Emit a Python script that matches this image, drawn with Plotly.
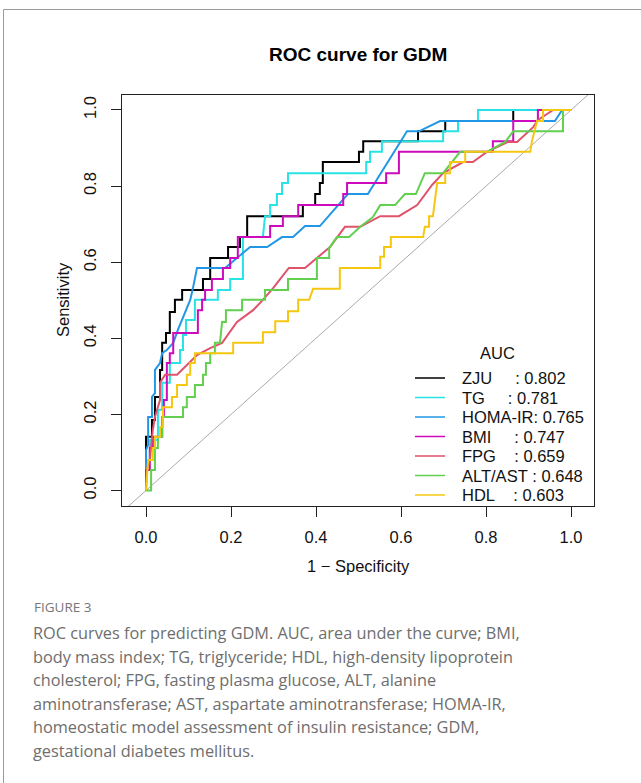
import plotly.graph_objects as go

# ROC curve vertices (x = 1 - specificity, y = sensitivity)
zju_x = [0, 0, 0.014, 0.014, 0.021, 0.021, 0.033, 0.033, 0.038, 0.038, 0.047, 0.047, 0.056, 0.056,
         0.068, 0.068, 0.085, 0.085, 0.134, 0.134, 0.151, 0.151, 0.193, 0.193, 0.221, 0.221, 0.238,
         0.238, 0.369, 0.369, 0.398, 0.398, 0.409, 0.409, 0.416, 0.416, 0.501, 0.501, 0.511, 0.511,
         0.64, 0.64, 0.704, 0.704, 0.864, 0.864, 1]
zju_y = [0, 0.141, 0.141, 0.185, 0.185, 0.246, 0.246, 0.317, 0.317, 0.388, 0.388, 0.414, 0.414, 0.469,
         0.469, 0.501, 0.501, 0.527, 0.527, 0.556, 0.556, 0.611, 0.611, 0.64, 0.64, 0.666, 0.666,
         0.721, 0.721, 0.75, 0.75, 0.779, 0.779, 0.808, 0.808, 0.863, 0.863, 0.89, 0.89, 0.918,
         0.918, 0.944, 0.944, 0.971, 0.971, 1, 1]

tg_x = [0, 0, 0.009, 0.009, 0.028, 0.028, 0.038, 0.038, 0.056, 0.056, 0.08, 0.08, 0.087, 0.087,
        0.094, 0.094, 0.115, 0.115, 0.169, 0.169, 0.198, 0.198, 0.228, 0.228, 0.275, 0.28, 0.292,
        0.292, 0.308, 0.308, 0.32, 0.32, 0.334, 0.334, 0.518, 0.518, 0.527, 0.527, 0.555, 0.555,
        0.699, 0.699, 0.734, 0.734, 0.781, 0.781, 1]
tg_y = [0, 0.08, 0.08, 0.133, 0.133, 0.212, 0.212, 0.283, 0.283, 0.335, 0.335, 0.369, 0.369, 0.409,
        0.409, 0.448, 0.448, 0.501, 0.501, 0.527, 0.527, 0.556, 0.556, 0.666, 0.666, 0.721, 0.721,
        0.75, 0.75, 0.779, 0.779, 0.808, 0.808, 0.834, 0.834, 0.863, 0.863, 0.89, 0.89, 0.918,
        0.918, 0.944, 0.944, 0.971, 0.971, 1, 1]

homa_x = [0, 0, 0.005, 0.005, 0.014, 0.014, 0.021, 0.021, 0.033, 0.038, 0.049, 0.064, 0.075, 0.092,
          0.104, 0.111, 0.12, 0.186, 0.245, 0.285, 0.32, 0.346, 0.374, 0.409, 0.475, 0.522, 0.614,
          0.642, 0.692, 0.962, 0.979, 1]
homa_y = [0, 0.106, 0.12, 0.193, 0.193, 0.246, 0.256, 0.317, 0.335, 0.361, 0.369, 0.388, 0.422,
          0.466, 0.501, 0.535, 0.585, 0.585, 0.64, 0.64, 0.666, 0.666, 0.695, 0.695, 0.779, 0.779,
          0.944, 0.944, 0.971, 0.971, 1, 1]

bmi_x = [0, 0, 0.009, 0.009, 0.016, 0.016, 0.038, 0.038, 0.042, 0.042, 0.049, 0.049, 0.056, 0.056,
         0.064, 0.064, 0.122, 0.122, 0.132, 0.132, 0.139, 0.139, 0.155, 0.155, 0.181, 0.181, 0.198,
         0.198, 0.216, 0.216, 0.292, 0.292, 0.322, 0.322, 0.358, 0.358, 0.464, 0.464, 0.473, 0.473,
         0.565, 0.565, 0.595, 0.595, 0.816, 0.816, 0.864, 0.864, 0.922, 0.922, 1]
bmi_y = [0, 0.054, 0.054, 0.112, 0.112, 0.141, 0.141, 0.193, 0.193, 0.238, 0.238, 0.335, 0.335, 0.361,
         0.361, 0.414, 0.414, 0.474, 0.474, 0.501, 0.501, 0.527, 0.527, 0.556, 0.556, 0.585, 0.585,
         0.611, 0.611, 0.666, 0.666, 0.695, 0.695, 0.721, 0.721, 0.75, 0.75, 0.779, 0.779, 0.808,
         0.808, 0.834, 0.834, 0.89, 0.89, 0.918, 0.918, 0.971, 0.971, 1, 1]

fpg_x = [0, 0.002, 0.009, 0.016, 0.021, 0.033, 0.033, 0.045, 0.073, 0.12, 0.151, 0.179, 0.214, 0.252,
         0.275, 0.299, 0.336, 0.374, 0.433, 0.468, 0.504, 0.551, 0.595, 0.638, 0.673, 0.699, 0.746,
         0.769, 0.802, 0.852, 0.873, 0.911, 0.922, 0.958, 1]
fpg_y = [0, 0.054, 0.08, 0.159, 0.193, 0.238, 0.283, 0.304, 0.304, 0.356, 0.374, 0.388, 0.443, 0.474,
         0.501, 0.532, 0.585, 0.585, 0.64, 0.693, 0.693, 0.721, 0.721, 0.75, 0.803, 0.834, 0.863,
         0.863, 0.89, 0.916, 0.916, 0.955, 0.974, 1, 1]

alt_x = [0, 0.012, 0.012, 0.021, 0.021, 0.028, 0.028, 0.038, 0.038, 0.087, 0.087, 0.096, 0.096, 0.115,
         0.115, 0.134, 0.134, 0.141, 0.141, 0.151, 0.151, 0.162, 0.162, 0.174, 0.179, 0.188, 0.188,
         0.226, 0.226, 0.28, 0.28, 0.334, 0.334, 0.402, 0.402, 0.431, 0.431, 0.449, 0.478, 0.504,
         0.534, 0.551, 0.586, 0.609, 0.635, 0.656, 0.699, 0.739, 0.802, 0.845, 0.864, 0.981, 0.981, 1]
alt_y = [0, 0, 0.054, 0.054, 0.112, 0.112, 0.141, 0.141, 0.193, 0.193, 0.219, 0.219, 0.246, 0.246,
         0.277, 0.277, 0.304, 0.304, 0.335, 0.335, 0.361, 0.361, 0.388, 0.388, 0.443, 0.443, 0.474,
         0.474, 0.501, 0.501, 0.527, 0.527, 0.556, 0.556, 0.611, 0.611, 0.637, 0.666, 0.666, 0.693,
         0.719, 0.75, 0.75, 0.779, 0.779, 0.834, 0.834, 0.89, 0.89, 0.916, 0.944, 0.944, 1, 1]

hdl_x = [0, 0.002, 0.005, 0.016, 0.016, 0.021, 0.021, 0.033, 0.033, 0.04, 0.04, 0.061, 0.061, 0.073,
         0.073, 0.096, 0.096, 0.104, 0.104, 0.115, 0.115, 0.205, 0.205, 0.275, 0.275, 0.304, 0.304,
         0.334, 0.334, 0.358, 0.358, 0.384, 0.393, 0.456, 0.456, 0.551, 0.551, 0.56, 0.56, 0.576,
         0.576, 0.652, 0.656, 0.666, 0.666, 0.675, 0.682, 0.685, 0.704, 0.704, 0.715, 0.715, 0.751,
         0.751, 0.904, 0.908, 0.92, 0.934, 0.934, 1]
hdl_y = [0, 0.028, 0.08, 0.08, 0.112, 0.112, 0.141, 0.141, 0.167, 0.167, 0.219, 0.219, 0.246, 0.246,
         0.277, 0.277, 0.304, 0.304, 0.335, 0.335, 0.361, 0.361, 0.388, 0.388, 0.416, 0.416, 0.445,
         0.445, 0.471, 0.471, 0.501, 0.501, 0.53, 0.53, 0.585, 0.585, 0.614, 0.614, 0.64, 0.64,
         0.666, 0.666, 0.693, 0.693, 0.721, 0.721, 0.777, 0.808, 0.808, 0.834, 0.834, 0.863, 0.863,
         0.89, 0.89, 0.918, 0.971, 0.971, 1, 1]

names = ["ZJU", "TG", "HOMA-IR", "BMI", "FPG", "ALT/AST", "HDL"]
label_pads = [5, 5, 0, 5, 4, 1, 4]
auc_values = ["0.802", "0.781", "0.765", "0.747", "0.659", "0.648", "0.603"]
colors = ["#000000", "#28E2E5", "#2297E6", "#CD0BBC", "#DF536B", "#61D04F", "#F5C710"]
curves = [(zju_x, zju_y), (tg_x, tg_y), (homa_x, homa_y), (bmi_x, bmi_y),
          (fpg_x, fpg_y), (alt_x, alt_y), (hdl_x, hdl_y)]

caption_head = "FIGURE 3"
caption_lines = [
    "ROC curves for predicting GDM. AUC, area under the curve; BMI,",
    "body mass index; TG, triglyceride; HDL, high-density lipoprotein",
    "cholesterol; FPG, fasting plasma glucose, ALT, alanine",
    "aminotransferase; AST, aspartate aminotransferase; HOMA-IR,",
    "homeostatic model assessment of insulin resistance; GDM,",
    "gestational diabetes mellitus.",
]

W, H = 641, 783
L, R, T, B = 122, 594, 95, 506
FONT = "Liberation Sans"


def px_x(p):
    return (p - L) / (R - L)


def px_y(p):
    return (B - p) / (B - T)


fig = go.Figure()

# reference diagonal
fig.add_trace(go.Scatter(x=[-0.1, 1.1], y=[-0.1, 1.1], mode="lines",
                         line=dict(color="#AAAAAA", width=1), showlegend=False, hoverinfo="skip"))

for (cx, cy), name, col in zip(curves, names, colors):
    fig.add_trace(go.Scatter(x=cx, y=cy, mode="lines", name=name,
                             line=dict(color=col, width=2), showlegend=False))

axis_common = dict(showline=True, mirror=True, linecolor="#222222", linewidth=1,
                   ticks="outside", ticklen=10, tickcolor="#222222", tickwidth=1,
                   showgrid=False, zeroline=False,
                   tickfont=dict(family=FONT, size=16.5, color="#111111"))

fig.update_xaxes(range=[-0.0565, 1.054], tickvals=[0, 0.2, 0.4, 0.6, 0.8, 1.0],
                 ticktext=["0.0", "0.2", "0.4", "0.6", "0.8", "1.0"], ticklabelstandoff=6,
                 **axis_common)
fig.update_yaxes(range=[-0.0407, 1.0394], tickvals=[0, 0.2, 0.4, 0.6, 0.8, 1.0],
                 ticktext=["0.0", "0.2", "0.4", "0.6", "0.8", "1.0"], tickangle=-90,
                 ticklabelstandoff=8, **axis_common)

annotations = [
    dict(text="<b>ROC curve for GDM</b>", x=px_x(358), y=px_y(55), xref="paper", yref="paper",
         showarrow=False, xanchor="center", yanchor="middle",
         font=dict(family=FONT, size=19, color="#000000")),
    dict(text="1 \u2212 Specificity", x=px_x(358), y=px_y(566), xref="paper", yref="paper",
         showarrow=False, xanchor="center", yanchor="middle",
         font=dict(family=FONT, size=16.5, color="#111111")),
    dict(text="Sensitivity", x=px_x(63), y=px_y(300), xref="paper", yref="paper",
         showarrow=False, xanchor="center", yanchor="middle", textangle=-90,
         font=dict(family=FONT, size=16.5, color="#111111")),
    dict(text="AUC", x=px_x(497), y=px_y(353), xref="paper", yref="paper",
         showarrow=False, xanchor="center", yanchor="middle",
         font=dict(family=FONT, size=16.5, color="#111111")),
    dict(text=caption_head, x=px_x(32), y=px_y(607), xref="paper", yref="paper",
         showarrow=False, xanchor="left", yanchor="middle",
         font=dict(family="Open Sans", size=13.5, color="#777777", weight=500)),
]
for i, line in enumerate(caption_lines):
    annotations.append(dict(text=line, x=px_x(31), y=px_y(633 + 23.5 * i), xref="paper",
                            yref="paper", showarrow=False, xanchor="left", yanchor="middle",
                            font=dict(family="Open Sans", size=16.3, color="#6e6e6e")))

shapes = [
    dict(type="line", xref="paper", yref="paper", x0=px_x(3.5), x1=px_x(W + 5),
         y0=px_y(9.5), y1=px_y(9.5), line=dict(color="#9a9a9a", width=1)),
    dict(type="line", xref="paper", yref="paper", x0=px_x(3.5), x1=px_x(3.5),
         y0=px_y(9.5), y1=px_y(H + 5), line=dict(color="#9a9a9a", width=1)),
]

# legend drawn like base R's legend(): thin key line plus padded label
for i, (name, pad, auc, col) in enumerate(zip(names, label_pads, auc_values, colors)):
    row_y = px_y(378 + 19.5 * i)
    shapes.append(dict(type="line", xref="paper", yref="paper", x0=px_x(415), x1=px_x(445),
                       y0=row_y, y1=row_y, line=dict(color=col, width=1.5)))
    label = name + "\u00a0" * pad + ": " + auc
    annotations.append(dict(text=label, x=px_x(460), y=row_y, xref="paper", yref="paper",
                            showarrow=False, xanchor="left", yanchor="middle",
                            font=dict(family=FONT, size=16.5, color="#111111")))

fig.update_layout(
    width=W, height=H,
    margin=dict(l=L, r=W - R, t=T, b=H - B),
    paper_bgcolor="white", plot_bgcolor="white",
    showlegend=False,
    annotations=annotations,
    shapes=shapes,
)

fig.write_html("out.html", config={"displayModeBar": False},
               post_script="document.body.style.margin='0';")
